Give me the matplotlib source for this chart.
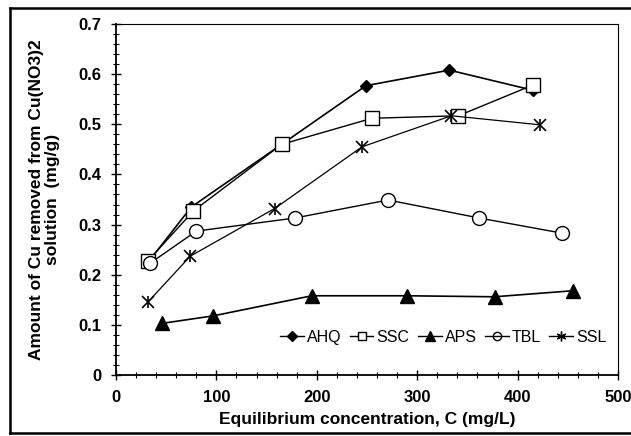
import matplotlib
matplotlib.use("Agg")
import matplotlib.pyplot as plt
from matplotlib.lines import Line2D
from matplotlib.ticker import MultipleLocator

plt.rcParams['font.family'] = ['Liberation Sans', 'DejaVu Sans']

# data
ahq_x = [32, 75, 165, 249, 332, 415]
ahq_y = [0.225, 0.335, 0.460, 0.577, 0.608, 0.568]

ssc_x = [32, 77, 165, 255, 341, 415]
ssc_y = [0.228, 0.327, 0.460, 0.512, 0.517, 0.578]

aps_x = [46, 97, 195, 290, 377, 455]
aps_y = [0.103, 0.118, 0.158, 0.158, 0.156, 0.168]

tbl_x = [34, 80, 178, 271, 362, 444]
tbl_y = [0.223, 0.287, 0.313, 0.349, 0.313, 0.283]

ssl_x = [32, 74, 158, 245, 334, 422]
ssl_y = [0.146, 0.237, 0.332, 0.455, 0.517, 0.499]

fig = plt.figure(figsize=(6.31, 4.36), dpi=100)
ax = fig.add_axes([116 / 631, 61 / 436, 502 / 631, 351 / 436])

ax.plot(ahq_x, ahq_y, color='k', lw=1.2, marker='D', ms=6, mfc='k', label='AHQ')
ax.plot(ssc_x, ssc_y, color='k', lw=1.0, marker='s', ms=10, mfc='white', label='SSC')
ax.plot(aps_x, aps_y, color='k', lw=1.2, marker='^', ms=10, mfc='k', label='APS')
ax.plot(tbl_x, tbl_y, color='k', lw=1.0, marker='o', ms=10, mfc='white', label='TBL')
ax.plot(ssl_x, ssl_y, color='k', lw=0.9, marker='x', ms=9, mew=1.2, label='SSL')
# star marker for SSL: overlay a vertical stroke
ax.plot(ssl_x, ssl_y, ls='none', color='k', marker='|', ms=9, mew=1.2)

ax.set_xlim(0, 500)
ax.set_ylim(0, 0.7)
ax.xaxis.set_major_locator(MultipleLocator(100))
ax.xaxis.set_minor_locator(MultipleLocator(20))
ax.yaxis.set_minor_locator(MultipleLocator(0.02))
ax.set_yticks([0, 0.1, 0.2, 0.3, 0.4, 0.5, 0.6, 0.7])
ax.set_yticklabels(['0', '0.1', '0.2', '0.3', '0.4', '0.5', '0.6', '0.7'])
ax.tick_params(which='major', direction='inout', length=7, width=1, labelsize=12,
               pad=7, right=False, top=False)
ax.tick_params(which='minor', direction='inout', length=4, width=0.8,
               right=False, top=False)
for lab in ax.get_xticklabels() + ax.get_yticklabels():
    lab.set_fontweight('bold')

for s in ['left', 'bottom']:
    ax.spines[s].set_linewidth(1.3)
for s in ['top', 'right']:
    ax.spines[s].set_linewidth(0.8)

ax.set_xlabel('Equilibrium concentration, C (mg/L)', fontsize=12.5,
              fontweight='bold', labelpad=5)
ax.set_ylabel('Amount of Cu removed from Cu(NO3)2\nsolution  (mg/g)', fontsize=12.5,
              fontweight='bold', labelpad=13, linespacing=1.15)

handles = [
    Line2D([], [], color='k', lw=1, marker='D', ms=5, mfc='k'),
    Line2D([], [], color='k', lw=1, marker='s', ms=6, mfc='white'),
    Line2D([], [], color='k', lw=1, marker='^', ms=7, mfc='k'),
    Line2D([], [], color='k', lw=1, marker='o', ms=6, mfc='none'),
    Line2D([], [], color='k', lw=1, marker=(6, 2, 0), ms=7),
]
ax.legend(handles, ['AHQ', 'SSC', 'APS', 'TBL', 'SSL'], ncol=5, frameon=False,
          loc='center', bbox_to_anchor=(0.652, 0.108), handlelength=1.5,
          handletextpad=0.2, columnspacing=0.5, fontsize=11.5, borderpad=0)

# outer frame around the figure
fig.add_artist(Line2D([10 / 631, 1.0], [1 - 8 / 436, 1 - 8 / 436], color='k', lw=1.8))
fig.add_artist(Line2D([10 / 631, 10 / 631], [1 - 8 / 436, 1 - 433 / 436], color='k', lw=1.8))
fig.add_artist(Line2D([10 / 631, 1.0], [1 - 433 / 436, 1 - 433 / 436], color='k', lw=1.8))

fig.savefig('out.png', dpi=100)
